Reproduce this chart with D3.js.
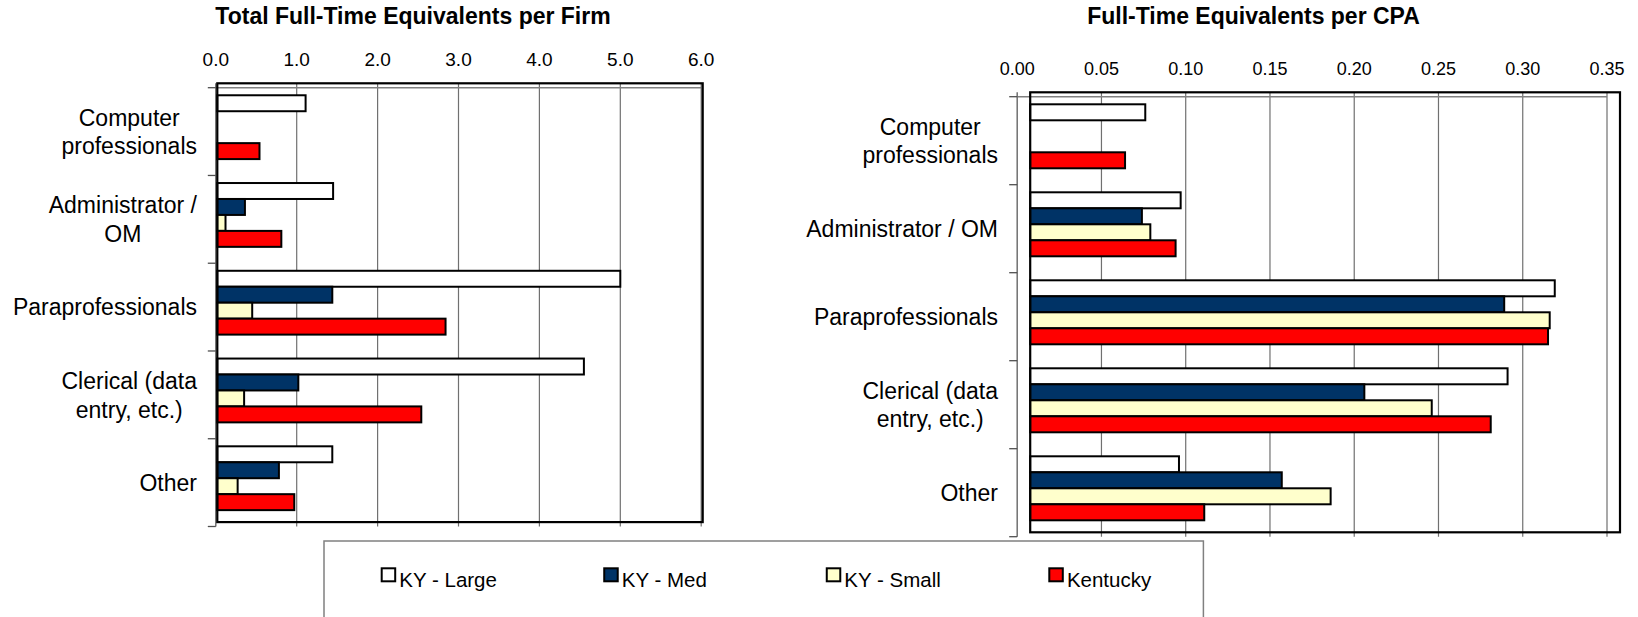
<!DOCTYPE html>
<html>
<head>
<meta charset="utf-8">
<script src="https://cdn.jsdelivr.net/npm/d3@7"></script>
<style>
  body { margin: 0; background: #fff; }
  svg { display: block; font-family: Arial, "Liberation Sans", sans-serif; }
</style>
</head>
<body>
<div class="chart"></div>
<script>
// categories and series
var categories = ["Computer professionals", "Administrator / OM", "Paraprofessionals", "Clerical (data entry, etc.)", "Other"];
var series = ["KY - Large", "KY - Med", "KY - Small", "Kentucky"];
var colors = ["#FFFFFF", "#003366", "#FFFFCC", "#FF0000"];

// Total Full-Time Equivalents per Firm
var firmLarge = [1.11, 1.45, 5.00, 4.55, 1.44];
var firmMed = [0, 0.36, 1.44, 1.02, 0.78];
var firmSmall = [0, 0.12, 0.45, 0.35, 0.27];
var firmKentucky = [0.54, 0.81, 2.84, 2.54, 0.97];
var firmTicks = [0, 1, 2, 3, 4, 5, 6];
var firmLabels = [["Computer", "professionals"], ["Administrator /", "OM"], ["Paraprofessionals"], ["Clerical (data", "entry, etc.)"], ["Other"]];

// Full-Time Equivalents per CPA
var cpaLarge = [0.076, 0.097, 0.319, 0.291, 0.096];
var cpaMed = [0, 0.074, 0.289, 0.206, 0.157];
var cpaSmall = [0, 0.079, 0.316, 0.246, 0.186];
var cpaKentucky = [0.064, 0.094, 0.315, 0.281, 0.111];
var cpaTicks = [0, 0.05, 0.10, 0.15, 0.20, 0.25, 0.30, 0.35];
var cpaLabels = [["Computer", "professionals"], ["Administrator / OM"], ["Paraprofessionals"], ["Clerical (data", "entry, etc.)"], ["Other"]];

var svg = d3.select(".chart")
    .append("svg")
    .attr("width", 1638)
    .attr("height", 617);

svg.append("rect").attr("width", 1638).attr("height", 617).attr("fill", "#fff");

function drawChart(cfg) {
    var g = svg.append("g");
    var dy = 4.4;

    var x = d3.scaleLinear()
        .domain([0, cfg.ticks[cfg.ticks.length - 1]])
        .range([cfg.x0, cfg.x1]);

    // front plane bands (axis ticks) and back plane bands (bars)
    var yFront = d3.scaleBand().domain(categories).range([cfg.y0, cfg.y1]);
    var y = d3.scaleBand().domain(categories).range([cfg.y0 - dy, cfg.y1 - dy]);
    var ySub = d3.scaleBand().domain(series).range([0, y.bandwidth()]).paddingOuter(0.75);

    var wallX = cfg.x0 + cfg.dx;

    // wall background
    g.append("rect")
        .attr("x", wallX).attr("y", cfg.y0 - dy)
        .attr("width", x.range()[1] - cfg.x0)
        .attr("height", cfg.y1 - cfg.y0)
        .attr("fill", "#fff");

    // gridlines
    g.selectAll(".grid")
        .data(cfg.ticks.slice(1))
        .enter()
        .append("line")
        .attr("x1", function (d) { return x(d); })
        .attr("x2", function (d) { return x(d); })
        .attr("y1", cfg.y0 - dy)
        .attr("y2", cfg.y1)
        .attr("stroke", "#707070")
        .attr("stroke-width", 1.2);

    // gray top edge of front plane
    g.append("line")
        .attr("x1", cfg.x0).attr("x2", cfg.x1)
        .attr("y1", cfg.y0).attr("y2", cfg.y0)
        .attr("stroke", "#808080").attr("stroke-width", 1.5);

    // value axis labels
    g.selectAll(".tick-label")
        .data(cfg.ticks)
        .enter()
        .append("text")
        .attr("x", function (d) { return x(d); })
        .attr("y", cfg.y0 - 21.5)
        .attr("text-anchor", "middle")
        .style("font-size", cfg.tickSize + "px")
        .attr("fill", "#000")
        .text(function (d) { return d3.format(cfg.fmt)(d); });

    // category axis
    g.append("line")
        .attr("x1", cfg.x0).attr("x2", cfg.x0)
        .attr("y1", cfg.y0 - dy).attr("y2", cfg.y1)
        .attr("stroke", "#707070").attr("stroke-width", 1.5);
    var edges = categories.map(function (c) { return yFront(c); }).concat([cfg.y1]);
    g.selectAll(".cat-tick")
        .data(edges)
        .enter()
        .append("line")
        .attr("x1", cfg.x0 - 8).attr("x2", cfg.x0)
        .attr("y1", function (d) { return d; })
        .attr("y2", function (d) { return d; })
        .attr("stroke", "#505050").attr("stroke-width", 1.3);

    // bars
    var rows = [];
    categories.forEach(function (c, i) {
        cfg.values.forEach(function (arr, j) {
            if (arr[i] > 0) rows.push({ cat: c, key: series[j], value: arr[i], color: colors[j] });
        });
    });
    g.selectAll(".bar")
        .data(rows)
        .enter()
        .append("rect")
        .attr("x", wallX)
        .attr("y", function (d) { return y(d.cat) + ySub(d.key); })
        .attr("width", function (d) { return x(d.value) - wallX; })
        .attr("height", ySub.bandwidth())
        .attr("fill", function (d) { return d.color; })
        .attr("stroke", "#000")
        .attr("stroke-width", 2);

    // wall outline
    g.append("rect")
        .attr("x", wallX).attr("y", cfg.y0 - dy)
        .attr("width", x.range()[1] - cfg.x0)
        .attr("height", cfg.y1 - cfg.y0)
        .attr("fill", "none")
        .attr("stroke", "#000")
        .attr("stroke-width", 2.2);

    // category labels, lines centered in a right-aligned block
    var lh = 28.75;
    categories.forEach(function (c, i) {
        var lines = cfg.labels[i];
        var yc = yFront(c) + yFront.bandwidth() / 2;
        var texts = g.selectAll(null)
            .data(lines)
            .enter()
            .append("text")
            .attr("text-anchor", "middle")
            .style("font-size", "23px")
            .attr("fill", "#000")
            .attr("y", function (d, k) { return yc + (k - (lines.length - 1) / 2) * lh + 8.3; })
            .text(function (d) { return d; });
        var maxW = 0;
        texts.each(function () { maxW = Math.max(maxW, this.getComputedTextLength()); });
        texts.attr("x", cfg.labelRight - maxW / 2);
    });

    // title
    g.append("text")
        .attr("x", cfg.titleX)
        .attr("y", 24)
        .attr("text-anchor", "middle")
        .style("font-size", "23px")
        .style("font-weight", "bold")
        .text(cfg.title);
}

drawChart({
    title: "Total Full-Time Equivalents per Firm",
    titleX: 413,
    values: [firmLarge, firmMed, firmSmall, firmKentucky],
    ticks: firmTicks,
    fmt: ".1f",
    tickSize: 19,
    labels: firmLabels,
    labelRight: 197,
    x0: 215.8, x1: 701.2, y0: 87.7, y1: 526.5, dx: 1.5
});

drawChart({
    title: "Full-Time Equivalents per CPA",
    titleX: 1253.5,
    values: [cpaLarge, cpaMed, cpaSmall, cpaKentucky],
    ticks: cpaTicks,
    fmt: ".2f",
    tickSize: 18,
    labels: cpaLabels,
    labelRight: 998,
    x0: 1017.2, x1: 1607, y0: 96.7, y1: 536.7, dx: 13
});

// legend
var legend = svg.append("g");
legend.append("rect")
    .attr("x", 324).attr("y", 541)
    .attr("width", 879.4).attr("height", 100)
    .attr("fill", "#fff")
    .attr("stroke", "#808080")
    .attr("stroke-width", 1.5);

var lx = d3.scalePoint().domain(series).range([381.7, 1049.3]);
var items = legend.selectAll(".item")
    .data(series)
    .enter()
    .append("g")
    .attr("transform", function (d) { return "translate(" + lx(d) + ",568.3)"; });
items.append("rect")
    .attr("width", 13.5).attr("height", 13)
    .attr("fill", function (d, i) { return colors[i]; })
    .attr("stroke", "#000")
    .attr("stroke-width", 2);
items.append("text")
    .attr("x", 17.6)
    .attr("y", 18.7)
    .style("font-size", "20.5px")
    .text(function (d) { return d; });
</script>
</body>
</html>
